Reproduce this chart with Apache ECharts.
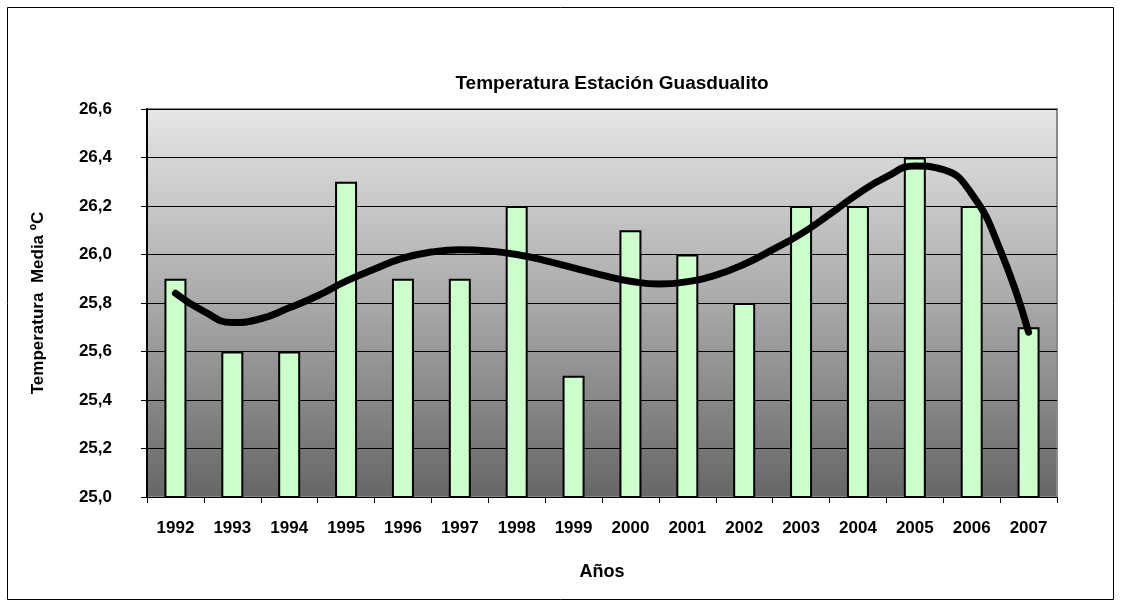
<!DOCTYPE html>
<html>
<head>
<meta charset="utf-8">
<script src="https://cdn.jsdelivr.net/npm/echarts@6/dist/echarts.min.js"></script>
<style>
    html, body { margin: 0; padding: 0; background: #fff; }
    #chart { width: 1122px; height: 607px; }
</style>
</head>
<body>
<div id="chart"></div>
<script>
(function () {

    var years = ['1992', '1993', '1994', '1995', '1996', '1997', '1998', '1999',
        '2000', '2001', '2002', '2003', '2004', '2005', '2006', '2007'];
    var temps = [25.9, 25.6, 25.6, 26.3, 25.9, 25.9, 26.2, 25.5,
        26.1, 26.0, 25.8, 26.2, 26.2, 26.4, 26.2, 25.7];

    // trend line, every half category (x = category index)
    var trendX = [0, 0.5, 1, 1.5, 2, 2.5, 3, 3.5, 4, 4.5, 5, 5.5, 6, 6.5, 7, 7.5,
        8, 8.5, 9, 9.5, 10, 10.5, 11, 11.5, 12, 12.5, 13, 13.5, 14, 14.5, 15];
    var trendY = [25.84, 25.765, 25.72, 25.735, 25.78, 25.83, 25.89, 25.94, 25.985, 26.01, 26.02, 26.015,
        26.0, 25.975, 25.945, 25.915, 25.89, 25.878, 25.888, 25.915, 25.96, 26.02, 26.085, 26.165,
        26.25, 26.32, 26.365, 26.35, 26.25, 26.02, 25.68];

    var font = '"Liberation Sans", Arial, sans-serif';

    var trendData = trendX.map(function (x, i) { return [x, trendY[i]]; });

    var chart = echarts.init(document.getElementById('chart'));

    var option = {
        animation: false,
        title: {
            text: 'Temperatura Estación Guasdualito',
            left: 607,
            top: 69,
            textAlign: 'center',
            textStyle: {
                fontFamily: font,
                fontSize: 19,
                fontWeight: 'bold',
                color: '#000'
            }
        },
        graphic: [
            {
                type: 'rect',
                shape: { x: 7.5, y: 7.5, width: 1106, height: 592 },
                style: { fill: 'none', stroke: '#000', lineWidth: 1 },
                z: -10
            }
        ],
        grid: {
            left: 147,
            right: 65,
            top: 109,
            bottom: 110,
            show: true,
            borderColor: '#888',
            borderWidth: 2,
            backgroundColor: {
                type: 'linear', x: 0, y: 0, x2: 0, y2: 1,
                colorStops: [
                    { offset: 0, color: '#e6e6e6' },
                    { offset: 0.5, color: '#a9a9a9' },
                    { offset: 1, color: '#666666' }
                ]
            }
        },
        xAxis: [
            {
                type: 'category',
                data: years,
                name: 'Años',
                nameLocation: 'middle',
                nameGap: 66,
                nameTextStyle: { fontFamily: font, fontSize: 18, fontWeight: 'bold', color: '#000' },
                axisLine: { lineStyle: { color: '#000', width: 1 } },
                axisTick: { show: true, length: 6, lineStyle: { color: '#000' } },
                axisLabel: {
                    margin: 23,
                    fontFamily: font,
                    fontSize: 17,
                    fontWeight: 'bold',
                    color: '#000'
                }
            },
            {
                type: 'value',
                min: -0.5,
                max: 15.5,
                show: false
            }
        ],
        yAxis: {
            type: 'value',
            min: 25,
            max: 26.6,
            interval: 0.2,
            name: 'Temperatura  Media ºC',
            nameLocation: 'middle',
            nameGap: 100,
            nameTextStyle: { fontFamily: font, fontSize: 17, fontWeight: 'bold', color: '#000' },
            axisLine: { show: true, onZero: false, lineStyle: { color: '#000', width: 2 } },
            axisTick: { show: true, length: 6, lineStyle: { color: '#000' } },
            splitLine: { show: true, lineStyle: { color: '#000', width: 1 } },
            axisLabel: {
                margin: 35,
                fontFamily: font,
                fontSize: 17,
                fontWeight: 'bold',
                color: '#000',
                formatter: function (v) { return v.toFixed(1).replace('.', ','); }
            }
        },
        series: [
            {
                type: 'bar',
                data: temps,
                barWidth: 22,
                itemStyle: {
                    color: '#ccffcc',
                    borderColor: '#000',
                    borderWidth: 2
                }
            },
            {
                type: 'line',
                xAxisIndex: 1,
                data: trendData,
                smooth: 0.5,
                showSymbol: false,
                symbol: 'none',
                lineStyle: { color: '#000', width: 7, cap: 'round', join: 'round' },
                z: 5
            }
        ]
    };

    chart.setOption(option);
})();
</script>
</body>
</html>
